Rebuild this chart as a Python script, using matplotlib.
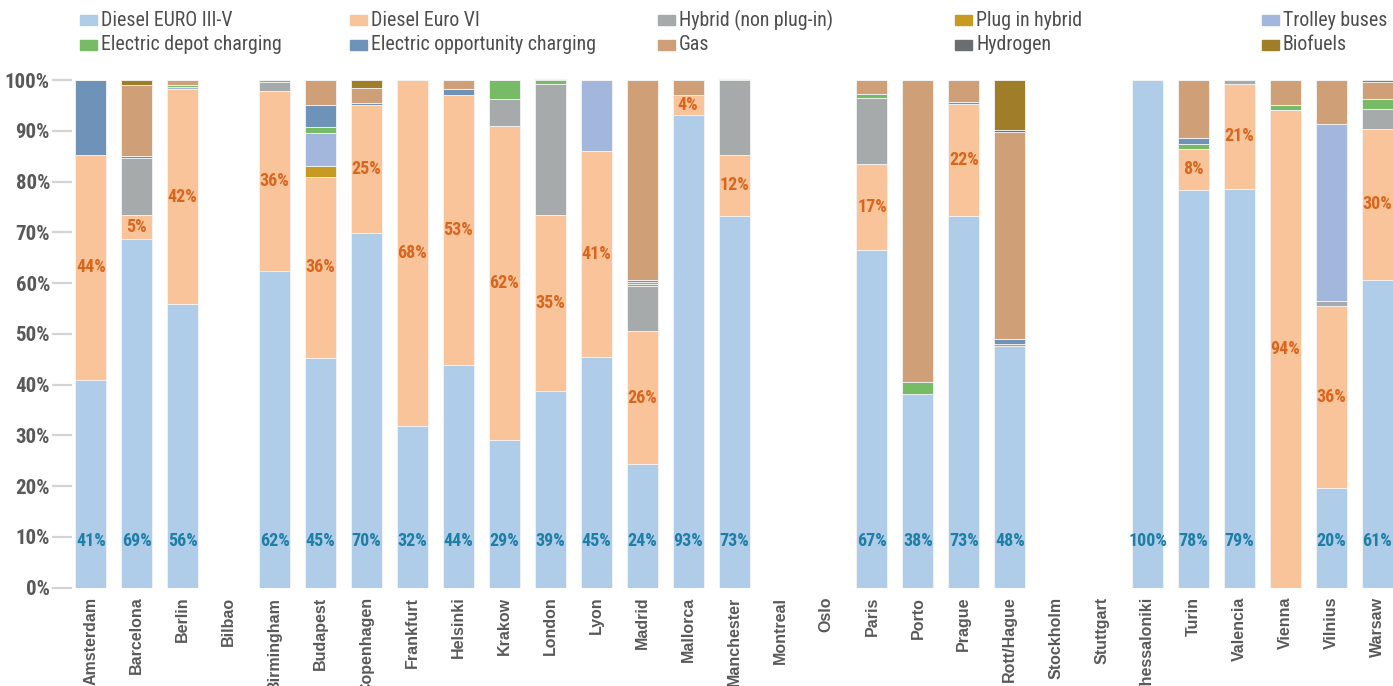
import numpy as np
import matplotlib
matplotlib.use('Agg')
import matplotlib.pyplot as plt
from matplotlib.patches import Rectangle

cities = ['Amsterdam', 'Barcelona', 'Berlin', 'Bilbao', 'Birmingham', 'Budapest',
          'Copenhagen', 'Frankfurt', 'Helsinki', 'Krakow', 'London', 'Lyon', 'Madrid',
          'Mallorca', 'Manchester', 'Montreal', 'Oslo', 'Paris', 'Porto', 'Prague',
          'Rott/Hague', 'Stockholm', 'Stuttgart', 'Thessaloniki', 'Turin', 'Valencia',
          'Vienna', 'Vilnius', 'Warsaw']

# shares in % (bottom to top of each bar)
diesel_3_5 = [41.0, 68.6, 55.8, 0, 62.3, 45.2, 69.8, 31.8, 43.8, 29.0, 38.7, 45.4, 24.3,
              93.1, 73.2, 0, 0, 66.6, 38.1, 73.2, 47.6, 0, 0, 100, 78.3, 78.6, 0, 19.6, 60.7]
diesel_6 = [44.2, 4.8, 42.4, 0, 35.5, 35.8, 25.3, 68.2, 53.2, 62.0, 34.8, 40.6, 26.3,
            3.9, 12.1, 0, 0, 16.9, 0, 22.1, 0, 0, 0, 0, 8.2, 20.6, 94.1, 35.9, 29.6]
hybrid = [0, 11.2, 0, 0, 1.9, 0, 0, 0, 0, 5.2, 25.7, 0, 8.9,
          0, 14.7, 0, 0, 13.0, 0, 0, 0, 0, 0, 0, 0, 0.8, 0, 1.0, 4.0]
plug_in = [0, 0, 0, 0, 0, 2.0, 0, 0, 0, 0, 0, 0, 0.3,
           0, 0, 0, 0, 0, 0, 0, 0, 0, 0, 0, 0, 0, 0, 0, 0]
trolley = [0, 0, 0.4, 0, 0, 6.5, 0, 0, 0, 0, 0, 14.0, 0,
           0, 0, 0, 0, 0, 0, 0, 0, 0, 0, 0, 0, 0, 0, 34.8, 0]
elec_depot = [0, 0, 0.4, 0, 0.4, 1.3, 0, 0, 0, 3.8, 0.8, 0, 0.5,
              0, 0.3, 0, 0, 0.8, 2.5, 0, 0.4, 0, 0, 0, 1.0, 0, 1.0, 0, 1.9]
elec_opp = [14.8, 0.4, 0, 0, 0, 4.2, 0.4, 0, 1.2, 0, 0, 0, 0.3,
            0, 0, 0, 0, 0, 0, 0.4, 1.0, 0, 0, 0, 1.0, 0, 0, 0, 0]
gas = [0, 14.1, 1.0, 0, 0, 5.0, 3.0, 0, 1.8, 0, 0, 0, 39.4,
       3.0, 0, 0, 0, 2.7, 59.4, 4.3, 40.8, 0, 0, 0, 11.5, 0, 4.9, 8.7, 3.5]
hydrogen = [0, 0, 0, 0, 0, 0, 0, 0, 0, 0, 0.3, 0, 0,
            0, 0, 0, 0, 0, 0, 0, 0.3, 0, 0, 0, 0, 0, 0, 0, 0]
biofuels = [0, 1.0, 0, 0, 0, 0, 1.5, 0, 0, 0, 0, 0, 0,
            0, 0, 0, 0, 0, 0, 0, 9.9, 0, 0, 0, 0, 0, 0, 0, 0.3]

series = [
    ('Diesel EURO III-V', diesel_3_5, '#afcde9'),
    ('Diesel Euro VI', diesel_6, '#f9c499'),
    ('Hybrid (non plug-in)', hybrid, '#a7aaab'),
    ('Plug in hybrid', plug_in, '#c99a22'),
    ('Trolley buses', trolley, '#a3b7dd'),
    ('Electric depot charging', elec_depot, '#78bb66'),
    ('Electric opportunity charging', elec_opp, '#6f93b8'),
    ('Gas', gas, '#cf9f78'),
    ('Hydrogen', hydrogen, '#6b6e71'),
    ('Biofuels', biofuels, '#a07e29'),
]

narrow = ['Roboto Condensed', 'Liberation Sans', 'DejaVu Sans']
gray_txt = '#595959'

W, H = 1393, 686
fig = plt.figure(figsize=(W / 100, H / 100), dpi=100)
ax = fig.add_axes([72 / W, (H - 587.7) / H, 1 - 72 / W, (587.7 - 75) / H])

x = np.arange(len(cities))
bottom = np.zeros(len(cities))
for name, vals, col in series:
    v = np.array(vals, dtype=float)
    ax.bar(x, v, 0.675, bottom=bottom, color=col, edgecolor='#f4f4f4',
           linewidth=0.6, label=name)
    bottom += v

# value labels
for i in range(len(cities)):
    if diesel_3_5[i] > 0:
        ax.text(x[i], 9.2, '%d%%' % int(diesel_3_5[i] + 0.5), ha='center', va='center',
                color='#1d7ea6', fontsize=13, fontweight='bold', family=narrow)
    if diesel_6[i] > 0:
        ax.text(x[i], diesel_3_5[i] + diesel_6[i] / 2, '%d%%' % int(diesel_6[i] + 0.5),
                ha='center', va='center', color='#d9661f', fontsize=13,
                fontweight='bold', family=narrow)

ax.set_ylim(0, 101)
ax.set_xlim(-0.41, 28.34)
ax.set_yticks(np.arange(0, 101, 10))
ax.set_yticklabels(['%d%%' % t for t in range(0, 101, 10)], family=narrow,
                   fontsize=15, fontweight='bold', color=gray_txt)
ax.tick_params(axis='y', length=14.4, width=1.6, color='#d4d4d4', pad=1.5)
ax.set_xticks(x)
ax.set_xticklabels(cities, rotation=90, va='top', ha='center', fontsize=11.5,
                   fontweight='bold', color=gray_txt, family=['Liberation Sans', 'DejaVu Sans'])
ax.tick_params(axis='x', length=0, pad=6.5)
for s in ax.spines.values():
    s.set_visible(False)

# legend, 2 rows x 5 columns placed by pixel
col_x = [80, 350, 658, 955, 1262]
row_y = [20, 45]
for k, (name, vals, col) in enumerate(series):
    r, c = divmod(k, 5)
    px, py = col_x[c], row_y[r]
    fig.patches.append(Rectangle((px / W, (H - py - 5) / H), 17 / W, 10 / H,
                                 transform=fig.transFigure, color=col, figure=fig))
    fig.text((px + 21) / W, (H - py) / H, name, ha='left', va='center',
             fontsize=14.3, color='#4d4d4d', family=narrow)

fig.savefig('out.png', dpi=100)
